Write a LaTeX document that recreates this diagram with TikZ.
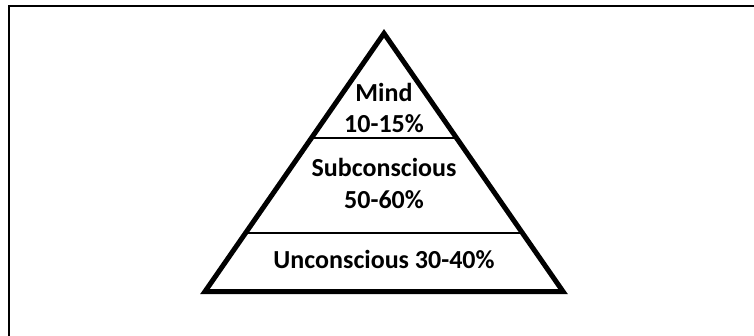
\documentclass[tikz,border=0pt]{standalone}
\usepackage{fontspec}
\setmainfont{Carlito}
\usetikzlibrary{calc}
\begin{document}
\begin{tikzpicture}[x=1pt,y=1pt,
  lbl/.style={anchor=base,inner sep=0pt,font=\fontsize{26}{30}\selectfont\bfseries},
  thick line/.style={line width=5pt,line join=miter},
  thin line/.style={line width=2pt}]
\useasboundingbox (0,0) rectangle (754,335);
\clip (0,0) rectangle (754,335);
\draw[line width=2.2pt] (9,-10) -- (9,329) -- (770,329);
\coordinate (apex) at (384,301.6);
\coordinate (bl) at (205,43.5);
\coordinate (br) at (563,43.5);
\draw[thin line] ($(apex)!0.405!(bl)$) -- ($(apex)!0.405!(br)$);
\draw[thin line] ($(apex)!0.773!(bl)$) -- ($(apex)!0.773!(br)$);
\draw[thick line] (apex) -- (bl) -- (br) -- cycle;
\node[lbl] (mind) at (384,233) {Mind};
\node[lbl] (mindp) at (384,202) {10-15\%};
\node[lbl] (sub) at (384,158) {Subconscious};
\node[lbl] (subp) at (384,127) {50-60\%};
\node[lbl] (unc) at (384,67) {Unconscious 30-40\%};
\end{tikzpicture}
\end{document}
